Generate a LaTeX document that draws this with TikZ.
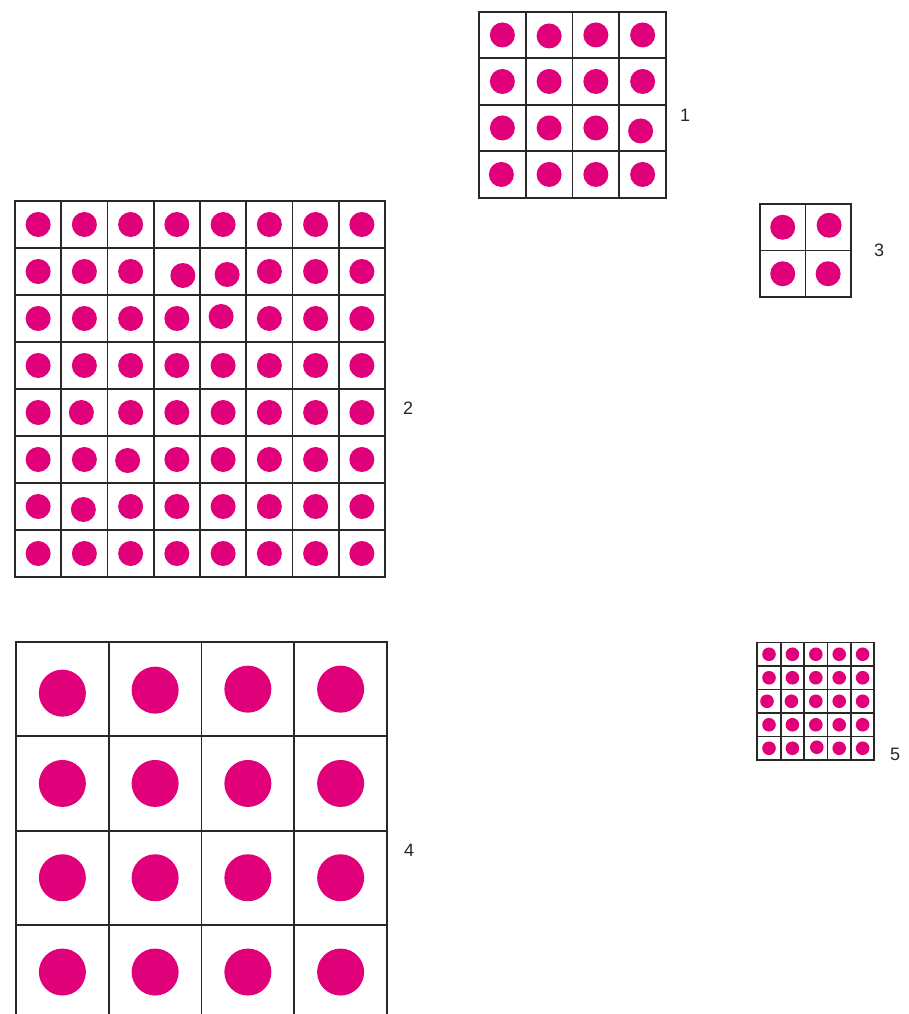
\documentclass[tikz,border=0pt]{standalone}
\usepackage{fontspec}
\setmainfont{Liberation Sans}
\definecolor{dotc}{RGB}{224,0,122}
\definecolor{gridc}{RGB}{40,40,40}
\tikzset{
  gridline/.style={draw=gridc,line width=1.8pt,line cap=rect},
  dotfill/.style={fill=dotc},
  lbl/.style={font=\fontsize{18}{20}\selectfont,inner sep=0pt,text=black!85}
}
% #1 x0, #2 y0, #3 n, #4 cell width, #5 cell height, #6 radius, #7 overrides c/r/dx/dy
\newcommand\dotgrid[7]{%
  \pgfmathtruncatemacro\gnm{#3-1}
  \foreach \gi in {1,...,\gnm}{
    \draw[gridline] ({#1+\gi*#4},#2) -- ({#1+\gi*#4},{#2+#3*#5});
    \draw[gridline] (#1,{#2+\gi*#5}) -- ({#1+#3*#4},{#2+\gi*#5});
  }
  \draw[gridline] (#1,#2) rectangle ({#1+#3*#4},{#2+#3*#5});
  \foreach \gc in {1,...,#3}{
    \foreach \gr in {1,...,#3}{
      \gdef\gdx{0}\gdef\gdy{0}
      \foreach \oc/\orr/\ox/\oy in {#7}{%
        \ifnum\oc=\gc\relax\ifnum\orr=\gr\relax\xdef\gdx{\ox}\xdef\gdy{\oy}\fi\fi}
      \fill[dotfill] ({#1+(\gc-0.5)*#4+\gdx},{#2+(\gr-0.5)*#5+\gdy}) circle (#6pt);
    }
  }
}
\begin{document}
\begin{tikzpicture}[x=1pt,y=-1pt]
\useasboundingbox (0,0) rectangle (909,1014);
\clip (0,0) rectangle (909,1014);
% grid 1
\dotgrid{479}{11.7}{4}{46.75}{46.5}{12.5}{2/1/0/1,4/3/-2/3,1/4/-1/0}
% grid 2
\dotgrid{15}{201}{8}{46.25}{47}{12.5}{4/2/6/4,5/2/4/3,5/3/-2/-2,2/5/-3/0,2/7/-1/3,3/6/-3/1}
% grid 3
\dotgrid{760}{204}{2}{45.4}{46.5}{12.5}{2/1/1/-2}
% grid 4
\dotgrid{16}{642}{4}{92.75}{94.3}{23.5}{1/1/0/4,2/1/0/1}
% grid 5
\dotgrid{757.3}{642.5}{5}{23.4}{23.5}{6.8}{1/3/-2/0,2/3/-1/0,3/5/1/-1}
% labels
\node[lbl] (l1) at (685,115) {1};
\node[lbl] (l2) at (408,408) {2};
\node[lbl] (l3) at (879,250) {3};
\node[lbl] (l4) at (409,850) {4};
\node[lbl] (l5) at (895,754) {5};
\end{tikzpicture}
\end{document}
